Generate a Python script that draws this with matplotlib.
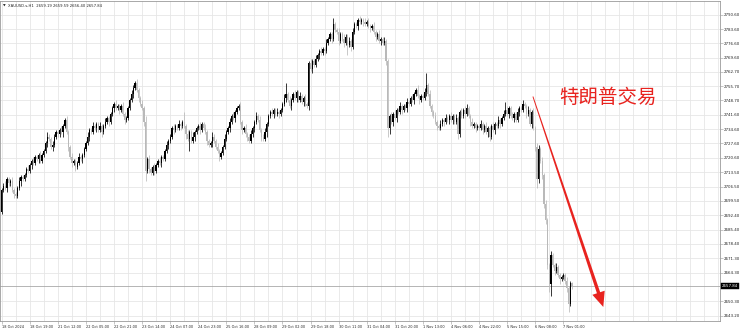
import numpy as np
import matplotlib
matplotlib.use("Agg")
import matplotlib.pyplot as plt
from matplotlib.patches import Polygon
from matplotlib.transforms import IdentityTransform, blended_transform_factory

# ---------------- data (hourly XAUUSD candles) ----------------
first_open = 2694.0
closes = [
    2705, 2707, 2706, 2710, 2708, 2709, 2705, 2703, 2702, 2706, 2709, 2711, 2710, 2712, 2715, 2714,
    2717, 2719, 2718, 2721, 2720, 2722, 2719, 2722, 2724, 2728, 2731, 2730, 2726, 2727, 2731, 2733,
    2732, 2734, 2733, 2736, 2739, 2733, 2726, 2721, 2718, 2719, 2716, 2718, 2721, 2720, 2722, 2725,
    2728, 2731, 2734, 2733, 2736, 2735, 2737, 2734, 2736, 2733, 2736, 2738, 2740, 2738, 2742, 2745,
    2747, 2745, 2746, 2744, 2746, 2742, 2739, 2740, 2745, 2749, 2752, 2755, 2757, 2754, 2750, 2747,
    2745, 2738, 2714, 2720, 2715, 2713, 2716, 2714, 2717, 2719, 2718, 2721, 2720, 2724, 2727, 2729,
    2731, 2735, 2734, 2736, 2735, 2737, 2736, 2738, 2736, 2732, 2730, 2733, 2729, 2731, 2733, 2735,
    2736, 2734, 2737, 2735, 2733, 2729, 2727, 2728, 2731, 2729, 2726, 2724, 2721, 2723, 2726, 2730,
    2733, 2735, 2738, 2741, 2740, 2743, 2745, 2746, 2738, 2734, 2735, 2732, 2731, 2729, 2732, 2735,
    2738, 2741, 2739, 2734, 2731, 2730, 2733, 2737, 2741, 2743, 2742, 2744, 2742, 2743, 2742, 2744,
    2747, 2750, 2752, 2749, 2746, 2749, 2752, 2750, 2753, 2749, 2751, 2748, 2750, 2747, 2746, 2767,
    2764, 2768, 2766, 2769, 2771, 2773, 2772, 2774, 2773, 2777, 2779, 2781, 2779, 2786, 2783, 2782,
    2778, 2781, 2779, 2777, 2780, 2776, 2778, 2775, 2782, 2786, 2785, 2788, 2787, 2788, 2787, 2786,
    2787, 2785, 2784, 2785, 2782, 2780, 2781, 2778, 2779, 2777, 2778, 2768, 2735, 2741, 2738, 2742,
    2740, 2744, 2743, 2746, 2744, 2746, 2745, 2748, 2747, 2750, 2749, 2752, 2754, 2751, 2749, 2751,
    2750, 2753, 2756, 2752, 2746, 2743, 2741, 2738, 2736, 2735, 2737, 2739, 2738, 2740, 2739, 2741,
    2739, 2741, 2738, 2740, 2732, 2743, 2741, 2744, 2742, 2745, 2741, 2738, 2736, 2737, 2735, 2736,
    2735, 2737, 2734, 2736, 2733, 2735, 2731, 2736, 2734, 2737, 2736, 2739, 2737, 2740, 2742, 2744,
    2742, 2745, 2741, 2740, 2742, 2739, 2743, 2745, 2744, 2747, 2746, 2742, 2744, 2737, 2743, 2735,
    2726, 2710, 2725, 2719, 2712, 2698, 2690, 2668, 2659, 2673, 2668, 2665, 2667, 2663, 2661, 2662,
    2663, 2660, 2657, 2649, 2659.19, 2657.84,
]
upper_wicks = [
    1, 1, 2, 1, 1, 1, 2, 1, 1, 1, 2, 1, 1, 1, 1, 2,
    1, 1, 2, 1, 1, 1, 2, 1, 1, 1, 2, 1, 1, 2, 1, 1,
    1, 1, 2, 1, 1, 2, 1, 1, 2, 1, 1, 1, 2, 1, 1, 1,
    1, 2, 1, 1, 2, 1, 1, 1, 2, 1, 1, 2, 1, 1, 1, 1,
    1, 2, 1, 1, 1, 2, 1, 1, 1, 1, 2, 1, 1, 2, 1, 1,
    2, 1, 3, 1, 2, 1, 1, 2, 1, 1, 2, 1, 1, 1, 2, 1,
    1, 1, 2, 1, 1, 2, 1, 1, 5, 1, 2, 1, 1, 2, 1, 1,
    1, 2, 1, 1, 2, 1, 1, 1, 2, 1, 1, 2, 1, 1, 1, 2,
    1, 1, 2, 1, 2, 1, 1, 1, 2, 1, 1, 2, 1, 1, 2, 1,
    1, 2, 1, 2, 1, 1, 2, 1, 1, 1, 2, 1, 1, 2, 1, 1,
    1, 2, 5, 1, 2, 1, 1, 2, 1, 1, 2, 1, 1, 2, 1, 1,
    2, 1, 1, 2, 1, 1, 2, 1, 1, 2, 1, 1, 1, 3, 1, 1,
    2, 1, 1, 2, 1, 1, 2, 1, 2, 1, 1, 1, 2, 1, 1, 2,
    1, 2, 1, 1, 2, 1, 1, 2, 1, 1, 2, 1, 1, 1, 2, 1,
    2, 1, 1, 2, 1, 1, 1, 2, 1, 1, 2, 1, 1, 2, 1, 1,
    1, 2, 6, 1, 2, 1, 1, 2, 1, 1, 2, 1, 1, 2, 1, 1,
    2, 1, 1, 2, 1, 1, 2, 1, 2, 2, 1, 1, 2, 1, 1, 1,
    1, 2, 1, 1, 2, 1, 1, 1, 2, 1, 1, 2, 1, 1, 2, 4,
    2, 1, 1, 2, 1, 1, 2, 1, 1, 2, 1, 1, 2, 1, 1, 2,
    1, 2, 2, 1, 2, 1, 2, 1, 1, 2, 1, 1, 2, 1, 1, 1,
    1, 1, 2, 1, 1, 0.4,
]
lower_wicks = [
    1, 1, 1, 2, 1, 1, 1, 2, 1, 1, 1, 2, 1, 1, 1, 1,
    1, 2, 1, 1, 1, 2, 1, 1, 1, 1, 2, 1, 1, 2, 1, 1,
    1, 1, 1, 2, 1, 1, 2, 1, 2, 1, 2, 1, 1, 1, 2, 1,
    1, 1, 2, 1, 1, 1, 2, 1, 1, 2, 1, 1, 1, 2, 1, 1,
    2, 1, 1, 2, 1, 1, 2, 1, 1, 1, 1, 2, 1, 1, 2, 1,
    1, 2, 5, 1, 2, 1, 1, 2, 1, 1, 1, 2, 1, 1, 1, 2,
    1, 1, 2, 1, 1, 1, 2, 1, 1, 2, 1, 6, 1, 1, 2, 1,
    1, 2, 1, 1, 1, 2, 1, 1, 2, 1, 1, 1, 2, 1, 1, 1,
    1, 1, 2, 1, 1, 2, 1, 1, 1, 2, 1, 1, 2, 1, 1, 1,
    2, 1, 1, 1, 2, 1, 1, 2, 1, 1, 1, 2, 1, 1, 2, 1,
    1, 1, 2, 1, 1, 2, 1, 1, 2, 1, 1, 1, 2, 1, 1, 2,
    1, 2, 1, 1, 1, 2, 1, 1, 2, 1, 1, 1, 2, 1, 1, 1,
    2, 1, 1, 2, 1, 5, 1, 2, 1, 1, 1, 2, 1, 1, 2, 1,
    1, 1, 2, 1, 1, 2, 1, 1, 2, 1, 1, 2, 4, 3, 1, 2,
    1, 2, 1, 1, 2, 1, 1, 2, 1, 1, 1, 2, 1, 1, 2, 1,
    1, 1, 2, 1, 1, 2, 1, 1, 2, 1, 1, 1, 2, 1, 1, 2,
    1, 2, 1, 1, 2, 1, 1, 1, 2, 1, 1, 2, 1, 1, 2, 1,
    1, 1, 2, 1, 1, 2, 2, 1, 1, 2, 1, 1, 2, 1, 1, 1,
    1, 2, 1, 1, 2, 1, 1, 2, 1, 1, 1, 2, 1, 1, 2, 1,
    2, 4, 2, 1, 2, 2, 2, 2, 4, 6, 1, 2, 1, 1, 2, 1,
    1, 1, 2, 4, 1, 1.44,
]
time_labels = ["18 Oct 2024", "18 Oct 19:00", "21 Oct 12:00", "22 Oct 05:00", "22 Oct 21:00",
               "23 Oct 14:00", "24 Oct 07:00", "24 Oct 23:00", "25 Oct 16:00", "28 Oct 09:00",
               "29 Oct 02:00", "29 Oct 18:00", "30 Oct 11:00", "31 Oct 04:00", "31 Oct 20:00",
               "1 Nov 13:00", "4 Nov 06:00", "4 Nov 22:00", "5 Nov 15:00", "6 Nov 08:00", "7 Nov 01:00"]
bars_per_label = 16
price_ticks = [2790.60, 2783.60, 2776.60, 2769.60, 2762.70, 2755.70, 2748.70, 2741.60, 2734.60,
               2727.60, 2720.60, 2713.50, 2706.50, 2699.50, 2692.40, 2685.40, 2678.40, 2671.30,
               2664.30, 2650.30, 2643.20]
title_text = "XAUUSD.s,H1  2659.19 2659.59 2656.40 2657.84"
annotation_text = "特朗普交易"

# ---------------- derived ----------------
c = np.array(closes, dtype=float)
o = np.concatenate([[first_open], c[:-1]])
hi = np.maximum(o, c) + np.array(upper_wicks, dtype=float)
lo = np.minimum(o, c) - np.array(lower_wicks, dtype=float)
x = np.arange(len(c))
last_price = c[-1]

BULL = "#000000"
BEAR = "#b9b9b9"
cols = np.where(c >= o, BULL, BEAR)

fig = plt.figure(figsize=(7.4, 3.3), dpi=100)
fig.patch.set_facecolor("white")
ax = fig.add_axes([0.0, 0.028, 720 / 740, 0.969])
ax.set_facecolor("white")

XMIN, XMAX = -0.97, 409.3
YMIN, YMAX = 2640.75, 2797.4
ax.set_xlim(XMIN, XMAX)
ax.set_ylim(YMIN, YMAX)

# grid
grid_col = "#e6e6e6"
for gx in np.arange(0, XMAX, bars_per_label / 2):
    ax.axvline(gx, color=grid_col, lw=0.6, zorder=0)
for gy in price_ticks:
    ax.axhline(gy, color=grid_col, lw=0.6, zorder=0)

# candles
ax.vlines(x, lo, hi, colors=cols, lw=0.55, zorder=2)
body = np.maximum(np.abs(c - o), 0.35)
ax.bar(x, body, bottom=np.minimum(o, c), width=0.75, color=cols, linewidth=0, zorder=3)

# current price line
ax.axhline(last_price, color="#a8a8a8", lw=0.6, zorder=1)

# spines
for s in ax.spines.values():
    s.set_color("#9a9a9a")
    s.set_linewidth(0.6)

# x axis labels
label_pos = np.arange(len(time_labels)) * bars_per_label
ax.set_xticks(label_pos)
ax.set_xticklabels(time_labels, fontsize=2.5, color="#222222", ha="left")
ax.tick_params(axis="x", length=2, width=0.4, color="#9a9a9a", pad=0.8)

# y axis labels (right side)
ax.yaxis.tick_right()
ax.set_yticks(price_ticks)
ax.set_yticklabels([f"{p:.2f}" for p in price_ticks], fontsize=2.9, color="#222222")
ax.tick_params(axis="y", length=2, width=0.4, color="#9a9a9a", pad=1)

# current price box on axis
trans = blended_transform_factory(ax.transAxes, ax.transData)
ax.text(1.003, last_price, f"{last_price:.2f}", transform=trans, fontsize=2.9, color="white",
        ha="left", va="center", clip_on=False,
        bbox=dict(boxstyle="square,pad=0.25", fc="black", ec="black", lw=0.3))

# title top left
ax.text(0.0035, 0.984, "\u25BC", transform=ax.transAxes, fontsize=2.5, color="#222222",
        ha="left", va="center")
ax.text(0.011, 0.984, title_text, transform=ax.transAxes, fontsize=2.7, color="#222222",
        ha="left", va="center")

# red annotation text
ax.text(559 / 720, 1 - 97 / 320, annotation_text, transform=ax.transAxes,
        fontsize=14, color="#e8231f", ha="left", va="center",
        family=["Noto Sans CJK SC", "DejaVu Sans"])

# tapered red arrow (start and tip in bar / price coordinates)
arrow_start = (302.7, 2750.6)
arrow_tip = (342.8, 2647.5)
p0 = ax.transData.transform(arrow_start)
p1 = ax.transData.transform(arrow_tip)
d = (p1 - p0) / np.linalg.norm(p1 - p0)
n = np.array([-d[1], d[0]])
head_len, head_half = 15.0, 6.5
base = p1 - d * head_len
w0, w1 = 0.45, 1.7
pts = [p0 + n * w0, base + n * w1, base + n * head_half, p1,
       base - n * head_half, base - n * w1, p0 - n * w0]
ax.add_patch(Polygon(pts, closed=True, transform=IdentityTransform(),
                     fc="#e8231f", ec="none", zorder=5, clip_on=False))

fig.savefig("out.png", dpi=100, facecolor="white")
